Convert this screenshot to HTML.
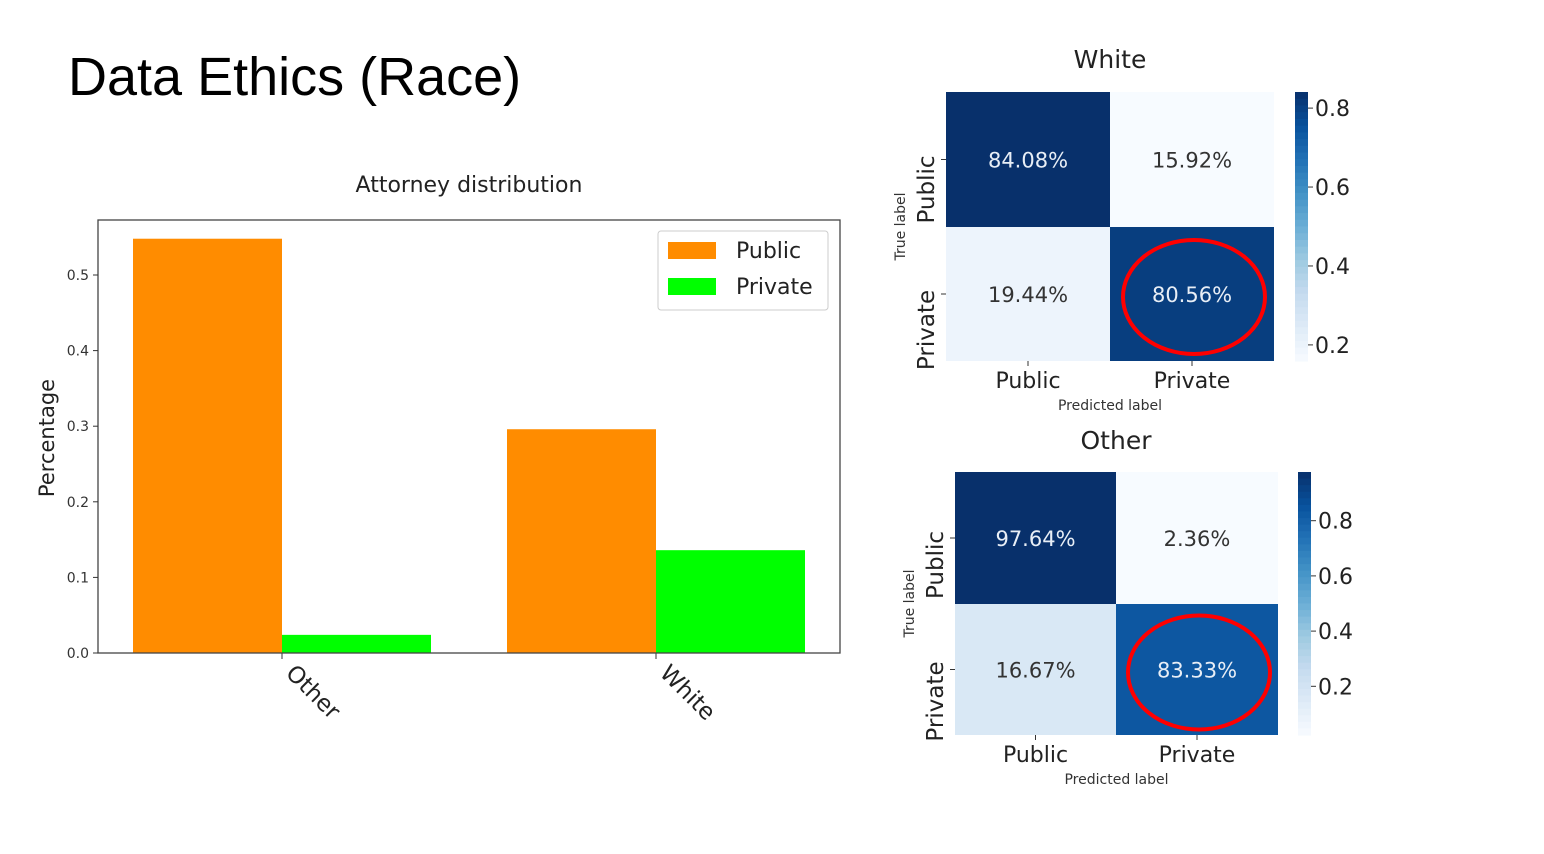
<!DOCTYPE html>
<html><head><meta charset="utf-8"><style>
html,body{margin:0;padding:0;background:#fff;}
svg{display:block;font-family:"DejaVu Sans","Liberation Sans",sans-serif;}
</style></head><body>
<svg id="root" width="1544" height="854" viewBox="0 0 1544 854" xmlns="http://www.w3.org/2000/svg">
<text x="68" y="95" font-size="54" font-family="'Liberation Sans',sans-serif" fill="#000">Data Ethics (Race)</text>
<g id="bar"></g>
<g id="hm1"></g>
<g id="hm2"></g>
</svg>
<script>
const categories=["Other","White"];
const publicVals=[0.548,0.296];
const privateVals=[0.024,0.136];
const yTicks=[0.0,0.1,0.2,0.3,0.4,0.5];
const whiteMatrix=[[0.8408,0.1592],[0.1944,0.8056]];
const otherMatrix=[[0.9764,0.0236],[0.1667,0.8333]];
const cmLabels=["Public","Private"];
const whiteCbTicks=[0.2,0.4,0.6,0.8];
const otherCbTicks=[0.2,0.4,0.6,0.8];

const NS="http://www.w3.org/2000/svg";
function mk(p,tag,a,txt){const e=document.createElementNS(NS,tag);for(const k in a)e.setAttribute(k,a[k]);if(txt!==undefined)e.textContent=txt;p.appendChild(e);return e;}

const bar=document.getElementById('bar');
const L=98,R=840,T=220,B=653;
const y=v=>B-v*756;
const catX=i=>282+i*374;
const bw=149;
mk(bar,'text',{x:469,y:192,'font-size':22,'text-anchor':'middle',fill:'#222',},'Attorney distribution');
categories.forEach((c,i)=>{
  let r=mk(bar,'rect',{x:catX(i)-bw,y:y(publicVals[i]),width:bw,height:B-y(publicVals[i]),fill:'#ff8c00'});
  
  
  r=mk(bar,'rect',{x:catX(i),y:y(privateVals[i]),width:bw,height:B-y(privateVals[i]),fill:'#00ff00'});
  
  
  mk(bar,'line',{x1:catX(i),x2:catX(i),y1:B,y2:B+6,stroke:'#333'});
  const t=mk(bar,'text',{x:0,y:0,'font-size':23,fill:'#222',transform:`translate(${catX(i)+14},${B+10}) rotate(45)`,'dominant-baseline':'hanging'},c);
  
  
});
mk(bar,'rect',{x:L,y:T,width:R-L,height:B-T,fill:'none',stroke:'#444','stroke-width':1.3,});
yTicks.forEach(v=>{
  mk(bar,'line',{x1:L-5,x2:L,y1:y(v),y2:y(v),stroke:'#333'});
  const t=mk(bar,'text',{x:L-9,y:y(v)+5,'font-size':14,'text-anchor':'end',fill:'#333'},v.toFixed(1));
  
  
});
mk(bar,'text',{x:0,y:0,'font-size':21,'text-anchor':'middle',fill:'#222',transform:'translate(54,438) rotate(-90)',},'Percentage');
const lg=mk(bar,'g',{});
mk(lg,'rect',{x:658,y:231,width:170,height:79,rx:3,fill:'#fff',stroke:'#ccc'});
mk(lg,'rect',{x:668,y:242,width:48,height:17,fill:'#ff8c00',});
mk(lg,'text',{x:736,y:258,'font-size':22,fill:'#222',},'Public');
mk(lg,'rect',{x:668,y:278,width:48,height:17,fill:'#00ff00',});
mk(lg,'text',{x:736,y:294,'font-size':22,fill:'#222',},'Private');

const blues=[[247,251,255],[222,235,247],[198,219,239],[158,202,225],[107,174,214],[66,146,198],[33,113,181],[8,81,156],[8,48,107]];
function cmap(t){t=Math.max(0,Math.min(1,t));const p=t*8,i=Math.min(7,Math.floor(p)),f=p-i;const a=blues[i],b=blues[i+1];return `rgb(${a.map((v,k)=>Math.round(v+(b[k]-v)*f)).join(',')})`;}

function heatmap(g,title,m,cbTicks,x0,x1,x2,y0,y1,y2,cbx,titleX,titleY,idp,lblShift){
  const flat=m.flat(),mn=Math.min(...flat),mx=Math.max(...flat);
  const xs=[x0,x1,x2],ys=[y0,y1,y2];
  mk(g,'text',{x:titleX,y:titleY,'font-size':25,'text-anchor':'middle',fill:'#222',},title);
  m.forEach((row,r)=>row.forEach((v,c)=>{
    const t=(v-mn)/(mx-mn);
    const cell=mk(g,'rect',{x:xs[c],y:ys[r],width:xs[c+1]-xs[c],height:ys[r+1]-ys[r],fill:cmap(t)});
    
    
    const cx=(xs[c]+xs[c+1])/2,cy=(ys[r]+ys[r+1])/2;
    const lbl=mk(g,'text',{x:cx,y:cy+8,'font-size':21,'text-anchor':'middle',fill:t>0.5?'#e8eef6':'#333'},(v*100).toFixed(2)+'%');
    
    
  }));
  cmLabels.forEach((l,i)=>{
    const cx=(xs[i]+xs[i+1])/2,cy=(ys[i]+ys[i+1])/2;
    mk(g,'line',{x1:cx,x2:cx,y1:y2,y2:y2+5,stroke:'#333'});
    const t=mk(g,'text',{x:cx,y:y2+27,'font-size':22,'text-anchor':'middle',fill:'#222'},l);
    
    
    mk(g,'line',{x1:x0-5,x2:x0,y1:cy,y2:cy,stroke:'#333'});
    const u=mk(g,'text',{x:0,y:0,'font-size':23,'text-anchor':'middle',fill:'#222',transform:`translate(${x0-12},${cy+lblShift[i]}) rotate(-90)`},l);
    
    
  });
  mk(g,'text',{x:(x0+x2)/2,y:y2+49,'font-size':14,'text-anchor':'middle',fill:'#333',},'Predicted label');
  mk(g,'text',{x:0,y:0,'font-size':14,'text-anchor':'middle',fill:'#333',transform:`translate(${x0-41},${(y0+y2)/2}) rotate(-90)`,},'True label');
  const n=40,h=(y2-y0)/n;
  for(let i=0;i<n;i++){mk(g,'rect',{x:cbx,y:y0+i*h,width:13,height:h+0.6,fill:cmap(1-(i+0.5)/n)});}
  const cy=v=>y2-(v-mn)/(mx-mn)*(y2-y0);
  cbTicks.forEach(v=>{
    mk(g,'line',{x1:cbx+13,x2:cbx+18,y1:cy(v),y2:cy(v),stroke:'#333'});
    const t=mk(g,'text',{x:cbx+20,y:cy(v)+8,'font-size':22,fill:'#222'},v.toFixed(1));
    
    
  });
  mk(g,'ellipse',{cx:(x1+x2)/2+2,cy:(y1+y2)/2+3,rx:71,ry:57,fill:'none',stroke:'#ff0000','stroke-width':4,});
}
heatmap(document.getElementById('hm1'),'White',whiteMatrix,whiteCbTicks,946,1110,1274,92,227,361,1295,1110,68,'white-cm',[30,36]);
heatmap(document.getElementById('hm2'),'Other',otherMatrix,otherCbTicks,955,1116,1278,472,604,735,1298,1116,449,'other-cm',[27,32]);
</script>
</body></html>
